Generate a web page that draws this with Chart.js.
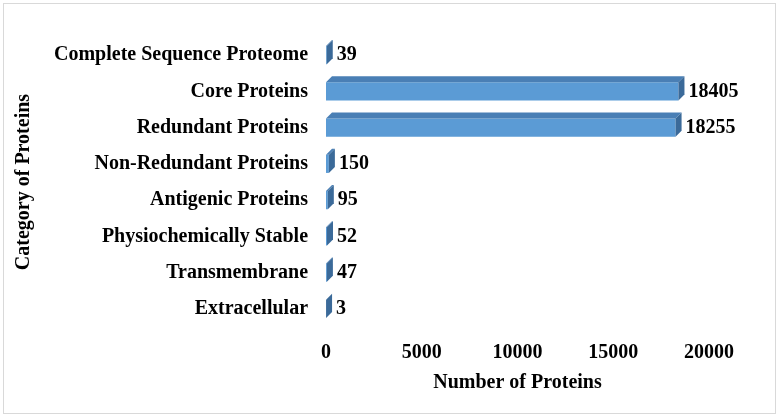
<!DOCTYPE html>
<html>
<head>
<meta charset="utf-8">
<script src="https://cdn.jsdelivr.net/npm/chart.js@4"></script>
<style>
  body { margin: 0; background: #fff; }
  #wrap { position: relative; width: 780px; height: 418px; }
  #frame { position: absolute; left: 3px; top: 3px; width: 771px; height: 409px; border: 1px solid #d9d9d9; }
  canvas { position: absolute; left: 0; top: 0; }
</style>
</head>
<body>
<div id="wrap">
  <div id="frame"></div>
  <canvas id="proteinChart" width="780" height="418"></canvas>
</div>
<script>
const categories = ['Complete Sequence Proteome', 'Core Proteins', 'Redundant Proteins', 'Non-Redundant Proteins',
  'Antigenic Proteins', 'Physiochemically Stable', 'Transmembrane', 'Extracellular'];
const proteinCounts = [39, 18405, 18255, 150, 95, 52, 47, 3];
const xTicks = [0, 5000, 10000, 15000, 20000];

const FONT = '"Liberation Serif", "Times New Roman", serif';
const DEPTH = 6;

// fake 3D faces + value labels drawn on top of each bar
const bar3d = {
  id: 'bar3d',
  afterDatasetsDraw(chart) {
    const c = chart.ctx;
    const meta = chart.getDatasetMeta(0);
    meta.data.forEach((bar, i) => {
      const top = bar.y - bar.height / 2;
      const bottom = bar.y + bar.height / 2;
      const left = bar.base, right = bar.x;
      c.save();
      c.fillStyle = '#4a7fb5';
      c.beginPath();
      c.moveTo(left, top);
      c.lineTo(left + DEPTH, top - DEPTH);
      c.lineTo(right + DEPTH, top - DEPTH);
      c.lineTo(right, top);
      c.closePath();
      c.fill();
      c.fillStyle = '#3b6a99';
      c.beginPath();
      c.moveTo(right, top);
      c.lineTo(right + DEPTH, top - DEPTH);
      c.lineTo(right + DEPTH, bottom - DEPTH);
      c.lineTo(right, bottom);
      c.closePath();
      c.fill();
      c.fillStyle = '#000';
      c.font = 'bold 20px ' + FONT;
      c.textAlign = 'left';
      c.textBaseline = 'middle';
      c.fillText(proteinCounts[i], right + DEPTH + 4, bar.y);
      c.restore();
    });
  }
};

new Chart(document.getElementById('proteinChart'), {
  type: 'bar',
  data: {
    labels: categories,
    datasets: [{
      data: proteinCounts,
      backgroundColor: '#5b9bd5',
      borderWidth: 0,
      barPercentage: 0.5,
      categoryPercentage: 1
    }]
  },
  options: {
    indexAxis: 'y',
    responsive: false,
    animation: false,
    layout: { padding: { left: 12, right: 71, top: 37, bottom: 23 } },
    plugins: { legend: { display: false }, tooltip: { enabled: false } },
    scales: {
      x: {
        min: 0, max: 20000,
        afterBuildTicks: axis => { axis.ticks = xTicks.map(v => ({ value: v })); },
        grid: { display: false, drawTicks: false },
        border: { display: false },
        ticks: { color: '#000', padding: 14, maxRotation: 0, minRotation: 0,
          callback: v => String(v),
          font: { family: FONT, size: 20, weight: 'bold' } },
        title: { display: true, text: 'Number of Proteins', color: '#000', padding: { top: -8, bottom: 0 },
          font: { family: FONT, size: 20, weight: 'bold' } }
      },
      y: {
        grid: { display: false, drawTicks: false },
        border: { display: false },
        ticks: { color: '#000', padding: 18, font: { family: FONT, size: 20, weight: 'bold' } },
        title: { display: true, text: 'Category of Proteins', color: '#000', padding: { top: 0, bottom: 0 },
          font: { family: FONT, size: 20, weight: 'bold' } }
      }
    }
  },
  plugins: [bar3d]
});
</script>
</body>
</html>
